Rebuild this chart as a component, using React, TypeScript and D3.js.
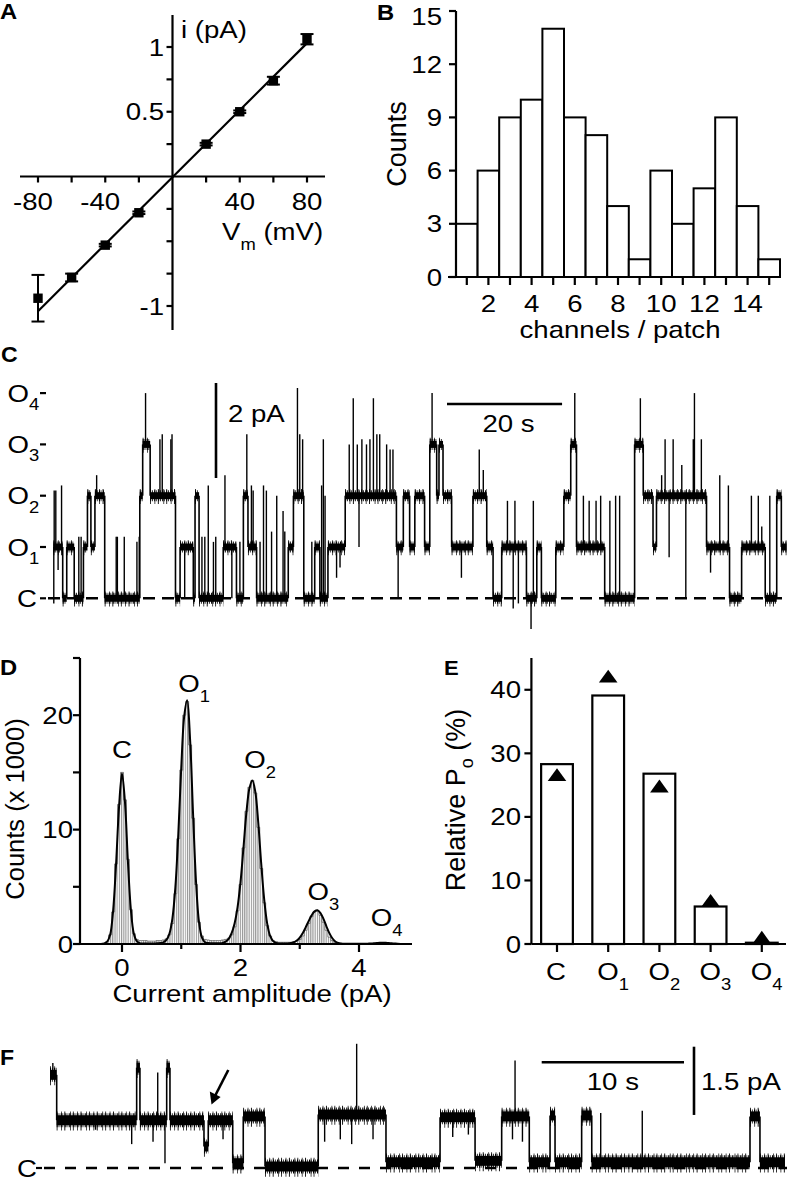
import React from 'react';
import * as d3 from 'd3';

const FONT = '"Liberation Sans", Arial, Helvetica, sans-serif';
const SX = 1.15;

// ---------- Panel A: single-channel I-V ----------
const ivVoltage = [-80, -60, -40, -20, 20, 40, 60, 80];
const ivCurrent = [-0.94, -0.78, -0.53, -0.28, 0.25, 0.5, 0.74, 1.06];
const ivSem = [0.18, 0.03, 0.01, 0.01, 0.01, 0.01, 0.03, 0.04];
const ivFitV = [-80, 80];
const ivFitI = [-1.04, 1.03];
const ivXLabels = [-80, -40, 40, 80];
const ivXMinor = [-60, -20, 20, 60];
const ivYLabels = [1, 0.5, -1];
const ivYMinor = [0.75, 0.25, -0.25, -0.5, -0.75];

// ---------- Panel B: channels per patch ----------
const chanBins = [1, 2, 3, 4, 5, 6, 7, 8, 9, 10, 11, 12, 13, 14, 15];
const chanCounts = [3, 6, 9, 10, 14, 9, 8, 4, 1, 6, 3, 5, 9, 4, 1];
const chanYTicks = [0, 3, 6, 9, 12, 15];
const chanXLabels = [2, 4, 6, 8, 10, 12, 14];

// ---------- Panel C: multi-channel recording (levels in unitary openings) ----------
const unitaryC = 1.08; // pA per opening
const traceCEnd = 127.4; // s
const traceCSteps: [number, number][] = [
  [0, 1], [1.6, 0], [2.3, 1], [3.6, 0], [5.2, 1], [5.9, 2], [6.5, 1], [7.2, 2], [8.9, 0],
  [15.0, 2], [15.5, 3], [16.8, 2], [21.2, 0], [22.0, 1], [24.3, 0], [24.6, 2], [25.3, 0],
  [29.5, 1], [31.8, 0], [33.0, 2], [33.8, 1], [35.3, 0], [40.8, 1], [41.7, 2], [43.5, 0],
  [45.4, 1], [46.3, 0], [47.7, 1], [50.7, 2], [59.6, 1], [60.8, 2], [61.9, 1], [62.8, 2],
  [64.5, 1], [65.4, 3], [66.6, 2], [67.0, 3], [67.7, 2], [69.2, 1], [72.9, 2], [75.3, 1],
  [76.4, 0], [77.9, 1], [82.2, 0], [84.0, 1], [84.8, 0], [87.3, 1], [88.7, 2], [89.9, 3],
  [90.9, 1], [95.8, 0], [101.0, 3], [102.5, 2], [104.2, 1], [104.8, 2], [113.5, 1],
  [117.5, 0], [119.6, 1], [123.7, 0], [125.7, 2], [126.5, 1],
];
const traceCSpikes: [number, number][] = [
  [0.05, -0.1], [0.12, 2.1], [0.4, 2.1], [0.8, 0.55], [1.4, 2.2], [4.4, 1.2], [4.8, 1.2], [7.5, 2.4],
  [10.9, 1.2], [11.1, 1.2], [12.3, 1.2], [14.5, 1.1], [14.9, 1.2], [16.0, 4.0], [18.5, 3.1],
  [18.9, 3.2], [20.4, 3.1], [20.6, 3.2], [22.8, 0], [25.8, 1.2], [26.3, 1.2], [26.9, 2.2],
  [27.8, 1.1], [28.2, 1.2], [29.8, 2.4], [31.0, 0], [32.4, 1.1], [33.6, 3.2], [34.4, 2.2],
  [34.7, 2.1], [35.9, 1.1], [36.5, 2.2], [37.0, 2.1], [37.9, 1.3], [38.8, 2.0], [39.9, 1.7],
  [40.2, 1.3], [42.4, 4.1], [42.8, 3.2], [43.3, 3.1], [44.9, 1.1], [46.6, 2.2], [46.9, 3.1],
  [47.2, 2.0], [49.2, 0.4], [49.8, 0.6], [51.4, 3.0], [52.1, 3.9], [52.8, 3.0], [53.1, 1.0],
  [53.6, 3.1], [54.4, 3.0], [55.0, 3.1], [55.6, 3.9], [56.2, 3.2], [56.7, 3.2], [57.9, 3.0],
  [58.5, 2.9], [59.0, 2.9], [59.9, 0], [65.8, 4.0], [70.9, 0.4], [74.0, 2.9], [74.7, 2.5],
  [78.9, 1.9], [79.9, -0.2], [80.2, 1.9], [80.8, -0.1], [83.0, -0.6], [83.4, 1.9], [90.6, 4.0],
  [92.1, 2.0], [93.1, 1.9], [94.3, 1.9], [95.1, 2.0], [96.7, 1.9], [97.7, 2.0], [98.4, 2.0],
  [102.0, 3.9], [105.7, 2.4], [106.3, 3.1], [107.0, 0.8], [107.7, 3.1], [109.2, 2.6],
  [109.9, 0.0], [111.2, 3.1], [111.4, 4.0], [112.6, 3.1], [114.2, 0.5], [115.8, 2.4],
  [117.3, 2.2], [121.3, 2.0], [122.5, 2.0], [123.1, 1.4], [124.5, 2.0],
];
const levelNames = ['C', 'O1', 'O2', 'O3', 'O4'];

// ---------- Panel D: all-points amplitude histogram ----------
const ampBinStart = -0.4; // centre of first bin (pA)
const ampBinWidth = 0.05;
const ampCounts = [
  0, 0.02, 0.05, 0.2, 0.8, 2.8, 7.0, 12.2, 15.0, 12.6,
  7.4, 3.0, 0.9, 0.4, 0.3, 0.3, 0.3, 0.25, 0.25, 0.25,
  0.3, 0.3, 0.35, 0.45, 0.8, 1.8, 4.4, 9.2, 15.2, 20.0,
  21.2, 17.4, 11.0, 5.2, 1.9, 0.7, 0.4, 0.35, 0.3, 0.3,
  0.3, 0.3, 0.35, 0.4, 0.5, 0.8, 1.5, 2.9, 5.2, 8.4,
  11.6, 13.7, 14.3, 13.2, 10.2, 6.6, 3.6, 1.6, 0.7, 0.3,
  0.2, 0.15, 0.15, 0.15, 0.15, 0.15, 0.2, 0.25, 0.4, 0.7,
  1.2, 1.8, 2.4, 2.8, 2.9, 2.5, 1.9, 1.2, 0.6, 0.3,
  0.12, 0.06, 0.03, 0.02, 0.02, 0.02, 0.02, 0.02, 0.02, 0.02,
  0.02, 0.03, 0.04, 0.06, 0.09, 0.11, 0.12, 0.11, 0.08, 0.05,
  0.03, 0.01, 0,
];
const ampFit = [
  0, 0.01, 0.04, 0.2, 0.8, 2.9, 7.0, 12.0, 14.9, 12.4,
  7.2, 3.0, 0.9, 0.25, 0.08, 0.05, 0.05, 0.05, 0.05, 0.05,
  0.06, 0.08, 0.15, 0.35, 0.9, 2.2, 4.9, 9.6, 15.4, 19.9,
  21.3, 17.8, 11.3, 5.4, 1.9, 0.55, 0.15, 0.08, 0.06, 0.06,
  0.06, 0.07, 0.1, 0.2, 0.45, 0.95, 1.8, 3.2, 5.4, 8.4,
  11.5, 13.6, 14.3, 13.3, 10.6, 7.0, 3.9, 1.8, 0.7, 0.25,
  0.1, 0.05, 0.04, 0.04, 0.05, 0.08, 0.15, 0.3, 0.55, 0.95,
  1.45, 2.0, 2.5, 2.85, 2.95, 2.7, 2.2, 1.55, 0.95, 0.5,
  0.22, 0.09, 0.04, 0.02, 0.02, 0.02, 0.02, 0.02, 0.02, 0.02,
  0.02, 0.03, 0.04, 0.06, 0.08, 0.1, 0.11, 0.1, 0.08, 0.06,
  0.04, 0.02, 0.01,
];
const ampYLabels = [0, 10, 20];
const ampYTicks = [0, 5, 10, 15, 20, 25];
const ampXLabels = [0, 2, 4];
const ampXMinor = [1, 3];

// ---------- Panel E: relative open probability ----------
const poStates = ['C', 'O1', 'O2', 'O3', 'O4'];
const poObserved = [28.3, 39.1, 26.8, 5.9, 0.2];
const poBinomial = [26.6, 42.1, 24.8, 6.8, 1.0];
const poYLabels = [0, 10, 20, 30, 40];

// ---------- Panel F: recording with sub-level (levels in unitary openings) ----------
const unitaryF = 1.05;
const traceFEnd = 51.65;
const traceFSteps: [number, number][] = [
  [0, 1.95], [0.47, 1.0], [6.09, 2.1], [6.32, 1.0], [8.2, 2.1], [8.43, 1.0], [10.82, 0.45],
  [11.12, 1.0], [12.84, 0.1], [13.58, 1.08], [15.11, 0.03], [18.85, 1.12], [23.61, 0.12],
  [27.41, 1.06], [29.87, 0.15], [31.74, 1.08], [33.68, 0.12], [35.14, 1.1], [35.49, 0.12],
  [37.36, 1.1], [38.07, 0.12], [49.19, 1.08], [49.89, 0.12],
];
const traceFSpikes: [number, number][] = [
  [0.2, 2.2], [3.2, 0.8], [5.74, 0.5], [7.24, 0.55], [7.57, 2.0], [8.08, 0.1], [12.16, 0.6],
  [19.3, 0.55], [20.4, 0.6], [21.2, 0.5], [21.55, 2.6], [22.7, 0.6], [28.3, 0.65], [29.4, 0.7],
  [32.5, 0.6], [32.68, 2.25], [33.2, 0.55], [38.7, 1.15], [41.62, 1.2],
];

// ---------------------------------------------------------------------------

function T({ x, y, size = 24, anchor = 'start', weight = 'normal', sx = SX, children }: any) {
  return (
    <text
      transform={`translate(${x},${y}) scale(${sx},1)`}
      fontSize={size}
      textAnchor={anchor}
      fontWeight={weight}
      fontFamily={FONT}
      fill="#000"
    >
      {children}
    </text>
  );
}

function StateLabel({ x, y, name, size = 24, sub = 16, dy = 9.5 }: any) {
  const main = name[0];
  const s = name.slice(1);
  return (
    <T x={x} y={y} size={size}>
      {main}
      {s ? (
        <tspan fontSize={sub} dy={dy}>
          {s}
        </tspan>
      ) : null}
    </T>
  );
}

function RotLabel({ x, y, size = 27, children }: any) {
  return (
    <text
      transform={`translate(${x},${y}) rotate(-90)`}
      fontSize={size}
      textAnchor="middle"
      fontFamily={FONT}
      fill="#000"
    >
      {children}
    </text>
  );
}

function Trace({ steps, spikes, end, x, y, core, fringe, sparse }: any) {
  const segs = steps.map((s: [number, number], i: number) => ({
    t0: s[0],
    t1: i < steps.length - 1 ? steps[i + 1][0] : end,
    lvl: s[1],
  }));
  const levelAt = (t: number) => {
    const g = segs.find((s: any) => t >= s.t0 && t < s.t1);
    return g ? g.lvl : 0;
  };
  return (
    <g stroke="#000" fill="none">
      {segs.map((g: any, i: number) => (
        <g key={'s' + i}>
          <line x1={x(g.t0)} x2={x(g.t1)} y1={y(g.lvl)} y2={y(g.lvl)} strokeWidth={core} />
          <line
            x1={x(g.t0)} x2={x(g.t1)} y1={y(g.lvl)} y2={y(g.lvl)}
            strokeWidth={fringe} strokeDasharray="1.0 0.9 0.8 1.3 1.1 0.7 0.7 1.5"
          />
          <line
            x1={x(g.t0)} x2={x(g.t1)} y1={y(g.lvl) + 0.8} y2={y(g.lvl) + 0.8}
            strokeWidth={sparse} strokeDasharray="0.8 3.6 0.7 2.6 0.9 4.7 0.7 2.2"
          />
        </g>
      ))}
      {segs.slice(1).map((g: any, i: number) => (
        <line key={'t' + i} x1={x(g.t0)} x2={x(g.t0)} y1={y(segs[i].lvl)} y2={y(g.lvl)} strokeWidth={1.6} />
      ))}
      {spikes.map((s: [number, number], i: number) => (
        <line key={'k' + i} x1={x(s[0])} x2={x(s[0])} y1={y(levelAt(s[0]))} y2={y(s[1])} strokeWidth={1.4} />
      ))}
    </g>
  );
}

export default function App() {
  const AW = 2.2;

  // ---- A scales ----
  const xA = d3.scaleLinear().domain([-80, 80]).range([38, 307]);
  const yA = d3.scaleLinear().domain([-1, 1]).range([306, 47]);
  const ivLine = d3.line<number>().x((v) => xA(v)).y((_, i) => yA(ivFitI[i]));

  // ---- B scales ----
  const xB = d3.scaleLinear().domain([0.5, 15.5]).range([456, 780]);
  const yB = d3.scaleLinear().domain([0, 15]).range([277, 11]);

  // ---- C scales ----
  const xC = d3.scaleLinear().domain([0, traceCEnd]).range([53.5, 786.5]);
  const yCpA = d3.scaleLinear().domain([0, 1]).range([598.3, 550.8]);
  const yC = (lvl: number) => yCpA(lvl * unitaryC);

  // ---- D scales ----
  const xD = d3.scaleLinear().domain([0, 4]).range([122, 359]);
  const yD = d3.scaleLinear().domain([0, 25]).range([944, 658]);
  const binCentres = ampCounts.map((_, i) => ampBinStart + i * ampBinWidth);
  const fitLine = d3
    .line<number>()
    .x((_, i) => xD(binCentres[i]))
    .y((v) => yD(v))
    .curve(d3.curveCatmullRom.alpha(0.5));
  const histOutline = d3
    .line<number>()
    .x((_, i) => xD(binCentres[i]))
    .y((v) => yD(v))
    .curve(d3.curveStep);

  // ---- E scales ----
  const xE = d3.scaleBand<string>().domain(poStates).range([531.4, 787.4]).paddingInner(0.38).paddingOuter(0.19);
  const yE = d3.scaleLinear().domain([0, 45]).range([944, 658]);

  // ---- F scales ----
  const xF = d3.scaleLinear().domain([0, traceFEnd]).range([50, 785]);
  const yFpA = d3.scaleLinear().domain([0, 1]).range([1168, 1122.5]);
  const yF = (lvl: number) => yFpA(lvl * unitaryF);

  const peakLabelPos = [
    { name: 'C', v: 0.0, h: 15.0, dx: -10, dy: -14 },
    { name: 'O1', v: 1.1, h: 21.3, dx: -9, dy: -8 },
    { name: 'O2', v: 2.2, h: 14.3, dx: -8, dy: -12 },
    { name: 'O3', v: 3.3, h: 2.95, dx: -10, dy: -10 },
    { name: 'O4', v: 4.4, h: 0.12, dx: -12, dy: -17 },
  ];

  const scaleBarC0 = xC.invert(447);
  const scaleBarF0 = xF.invert(541.7);
  const barC2pA = yCpA(0) - yCpA(2);

  return (
    <svg
      width={788}
      height={1180}
      viewBox="0 0 788 1180"
      style={{ position: 'absolute', left: 0, top: 0, background: '#fff' }}
    >
      <rect x={0} y={0} width={788} height={1180} fill="#fff" />
      <defs>
        <pattern id="vhatch" width={2.2} height={10} patternUnits="userSpaceOnUse">
          <rect width={2.2} height={10} fill="#fff" />
          <line x1={0.6} x2={0.6} y1={0} y2={10} stroke="#777" strokeWidth={0.9} />
        </pattern>
      </defs>

      {/* ================= Panel A ================= */}
      <T x={0} y={19} size={22} weight="bold" sx={1.08}>A</T>
      <g stroke="#000" strokeWidth={AW}>
        <line x1={20} x2={325} y1={yA(0)} y2={yA(0)} />
        <line x1={xA(0)} x2={xA(0)} y1={15} y2={330} />
        {[...ivXLabels, ...ivXMinor].map((v) => (
          <line key={'ax' + v} x1={xA(v)} x2={xA(v)} y1={yA(0)} y2={yA(0) + 6} />
        ))}
        {[...ivYLabels, ...ivYMinor].map((v) => (
          <line key={'ay' + v} x1={xA(0) - 6} x2={xA(0)} y1={yA(v)} y2={yA(v)} />
        ))}
      </g>
      {ivXLabels.map((v) => (
        <T key={'axl' + v} x={xA(v) + (v < 0 ? -5 : 0)} y={210} anchor="middle">
          {String(v)}
        </T>
      ))}
      {ivYLabels.map((v) => (
        <T key={'ayl' + v} x={164} y={yA(v) + 8.5} anchor="end">
          {String(v)}
        </T>
      ))}
      <T x={181} y={38}>i (pA)</T>
      <T x={222} y={240}>
        V<tspan fontSize={16} dy={10}>m</tspan>
        <tspan dy={-10}> (mV)</tspan>
      </T>
      <path d={ivLine(ivFitV) || ''} stroke="#000" strokeWidth={2.2} fill="none" />
      <g stroke="#000" strokeWidth={2}>
        {ivVoltage.map((v, i) => (
          <g key={'eb' + v}>
            <line x1={xA(v)} x2={xA(v)} y1={yA(ivCurrent[i] - ivSem[i])} y2={yA(ivCurrent[i] + ivSem[i])} />
            <line x1={xA(v) - 6.5} x2={xA(v) + 6.5} y1={yA(ivCurrent[i] - ivSem[i])} y2={yA(ivCurrent[i] - ivSem[i])} />
            <line x1={xA(v) - 6.5} x2={xA(v) + 6.5} y1={yA(ivCurrent[i] + ivSem[i])} y2={yA(ivCurrent[i] + ivSem[i])} />
          </g>
        ))}
      </g>
      {ivVoltage.map((v, i) => (
        <rect key={'pt' + v} x={xA(v) - 4.7} y={yA(ivCurrent[i]) - 4.7} width={9.4} height={9.4} fill="#000" />
      ))}

      {/* ================= Panel B ================= */}
      <T x={377} y={20} size={22} weight="bold" sx={1.08}>B</T>
      <g stroke="#000" strokeWidth={2} fill="#fff">
        {chanBins.map((b, i) => (
          <rect
            key={'hb' + b}
            x={xB(b - 0.5)}
            y={yB(chanCounts[i])}
            width={xB(b + 0.5) - xB(b - 0.5)}
            height={yB(0) - yB(chanCounts[i])}
          />
        ))}
      </g>
      <g stroke="#000" strokeWidth={AW}>
        <line x1={xB(0.5)} x2={xB(0.5)} y1={yB(15)} y2={yB(0)} />
        <line x1={448} x2={xB(15.5)} y1={yB(0)} y2={yB(0)} />
        {chanYTicks.map((v) => (
          <line key={'by' + v} x1={xB(0.5) - 7} x2={xB(0.5)} y1={yB(v)} y2={yB(v)} />
        ))}
        {chanBins.map((b) => (
          <line key={'bx' + b} x1={xB(b)} x2={xB(b)} y1={yB(0)} y2={yB(0) + 8} />
        ))}
      </g>
      {chanYTicks.map((v) => (
        <T key={'byl' + v} x={442} y={Math.max(yB(v) + 8.5, 25)} anchor="end">{String(v)}</T>
      ))}
      {chanXLabels.map((v) => (
        <T key={'bxl' + v} x={xB(v)} y={311.5} anchor="middle">{String(v)}</T>
      ))}
      <T x={620} y={338} anchor="middle">channels / patch</T>
      <RotLabel x={406} y={144}>Counts</RotLabel>

      {/* ================= Panel C ================= */}
      <T x={1} y={362} size={22} weight="bold" sx={1.05}>C</T>
      {levelNames.map((n, k) => (
        <g key={'lv' + n}>
          {k === 0 ? (
            <T x={17} y={yC(k) + 8.5}>C</T>
          ) : (
            <StateLabel x={7.5} y={yC(k) + 8.5} name={n} dy={8.5} />
          )}
          <line x1={40} x2={46} y1={yC(k)} y2={yC(k)} stroke="#000" strokeWidth={2.2} />
        </g>
      ))}
      <line x1={48} x2={787} y1={yC(0)} y2={yC(0)} stroke="#000" strokeWidth={2.6} strokeDasharray="12 7" />
      <Trace
        steps={traceCSteps}
        spikes={traceCSpikes}
        end={traceCEnd}
        x={xC}
        y={yC}
        core={7}
        fringe={11}
        sparse={15}
      />
      <line x1={216} x2={216} y1={383} y2={383 + barC2pA} stroke="#000" strokeWidth={2.6} />
      <T x={228} y={422}>2 pA</T>
      <line x1={xC(scaleBarC0)} x2={xC(scaleBarC0 + 20)} y1={404} y2={404} stroke="#000" strokeWidth={2.6} />
      <T x={(xC(scaleBarC0) + xC(scaleBarC0 + 20)) / 2 + 4} y={432} anchor="middle">20 s</T>

      {/* ================= Panel D ================= */}
      <T x={0} y={675} size={22} weight="bold" sx={1.08}>D</T>
      <g>
        {ampCounts.map((c, i) => (
          <rect
            key={'ab' + i}
            x={xD(binCentres[i] - ampBinWidth / 2)}
            y={yD(c)}
            width={xD(ampBinWidth) - xD(0)}
            height={yD(0) - yD(c)}
            fill="url(#vhatch)"
          />
        ))}
      </g>
      <path d={histOutline(ampCounts) || ''} fill="none" stroke="#666" strokeWidth={0.8} />
      <path d={fitLine(ampFit) || ''} fill="none" stroke="#000" strokeWidth={2} />
      <g stroke="#000" strokeWidth={AW}>
        <line x1={80} x2={80} y1={yD(25)} y2={yD(0)} />
        <line x1={80} x2={412} y1={yD(0)} y2={yD(0)} />
        {ampYTicks.map((v) => (
          <line key={'dy' + v} x1={73} x2={80} y1={yD(v)} y2={yD(v)} />
        ))}
        {ampXLabels.map((v) => (
          <line key={'dx' + v} x1={xD(v)} x2={xD(v)} y1={yD(0)} y2={yD(0) + 8} />
        ))}
        {ampXMinor.map((v) => (
          <line key={'dxm' + v} x1={xD(v)} x2={xD(v)} y1={yD(0)} y2={yD(0) + 5} />
        ))}
      </g>
      {ampYLabels.map((v) => (
        <T key={'dyl' + v} x={73} y={yD(v) + 8.5} anchor="end">{String(v)}</T>
      ))}
      {ampXLabels.map((v) => (
        <T key={'dxl' + v} x={xD(v)} y={976} anchor="middle">{String(v)}</T>
      ))}
      <T x={252} y={1002} anchor="middle">Current amplitude (pA)</T>
      <RotLabel x={24} y={809} size={25.5}>Counts (x 1000)</RotLabel>
      {peakLabelPos.map((p) => (
        <StateLabel key={'pl' + p.name} x={xD(p.v) + p.dx} y={yD(p.h) + p.dy} name={p.name} dy={10} />
      ))}

      {/* ================= Panel E ================= */}
      <T x={444} y={675} size={21} weight="bold" sx={1.05}>E</T>
      <g stroke="#000" strokeWidth={2.2} fill="#fff">
        {poStates.map((s, i) => (
          <rect
            key={'eb' + s}
            x={xE(s)!}
            y={yE(poObserved[i])}
            width={xE.bandwidth()}
            height={yE(0) - yE(poObserved[i])}
          />
        ))}
      </g>
      {poStates.map((s, i) => (
        <path
          key={'tri' + s}
          d="M0,-6.8 L9.3,6 L-9.3,6 Z"
          transform={`translate(${xE(s)! + xE.bandwidth() / 2},${yE(poBinomial[i])})`}
          fill="#000"
        />
      ))}
      <g stroke="#000" strokeWidth={AW}>
        <line x1={531.4} x2={531.4} y1={yE(45)} y2={yE(0)} />
        <line x1={531.4} x2={786} y1={yE(0)} y2={yE(0)} />
        {poYLabels.map((v) => (
          <line key={'ey' + v} x1={524.4} x2={531.4} y1={yE(v)} y2={yE(v)} />
        ))}
        {poStates.map((s) => (
          <line
            key={'ex' + s}
            x1={xE(s)! + xE.bandwidth() / 2}
            x2={xE(s)! + xE.bandwidth() / 2}
            y1={yE(0)}
            y2={yE(0) + 8}
          />
        ))}
      </g>
      {poYLabels.map((v) => (
        <T key={'eyl' + v} x={521} y={yE(v) + 8.5} anchor="end">{String(v)}</T>
      ))}
      {poStates.map((s) => (
        <StateLabel key={'exl' + s} x={xE(s)! + xE.bandwidth() / 2 - 11} y={980} name={s} dy={10} />
      ))}
      <text
        transform="translate(465,800) rotate(-90)"
        fontSize={27}
        textAnchor="middle"
        fontFamily={FONT}
        fill="#000"
      >
        Relative P<tspan fontSize={18} dy={8}>o</tspan>
        <tspan dy={-8}> (%)</tspan>
      </text>

      {/* ================= Panel F ================= */}
      <T x={0} y={1065} size={22} weight="bold" sx={1.05}>F</T>
      <T x={17} y={yF(0) + 8.5}>C</T>
      <line x1={36} x2={42} y1={yF(0)} y2={yF(0)} stroke="#000" strokeWidth={2.2} />
      <line x1={44} x2={787} y1={yF(0)} y2={yF(0)} stroke="#000" strokeWidth={2.6} strokeDasharray="11 10" />
      <Trace
        steps={traceFSteps}
        spikes={traceFSpikes}
        end={traceFEnd}
        x={xF}
        y={yF}
        core={10}
        fringe={14}
        sparse={19}
      />
      <line x1={xF(scaleBarF0)} x2={xF(scaleBarF0 + 10)} y1={1062.3} y2={1062.3} stroke="#000" strokeWidth={2.6} />
      <T x={(xF(scaleBarF0) + xF(scaleBarF0 + 10)) / 2} y={1090} anchor="middle">10 s</T>
      <line x1={694} x2={694} y1={1046.7} y2={1046.7 + (yFpA(0) - yFpA(1.5))} stroke="#000" strokeWidth={2.6} />
      <T x={701} y={1090}>1.5 pA</T>
      <line x1={228.3} x2={215} y1={1070} y2={1096} stroke="#000" strokeWidth={2.6} />
      <path d="M211.5,1104.5 L209.8,1091.5 L220.6,1097 Z" fill="#000" />
    </svg>
  );
}
